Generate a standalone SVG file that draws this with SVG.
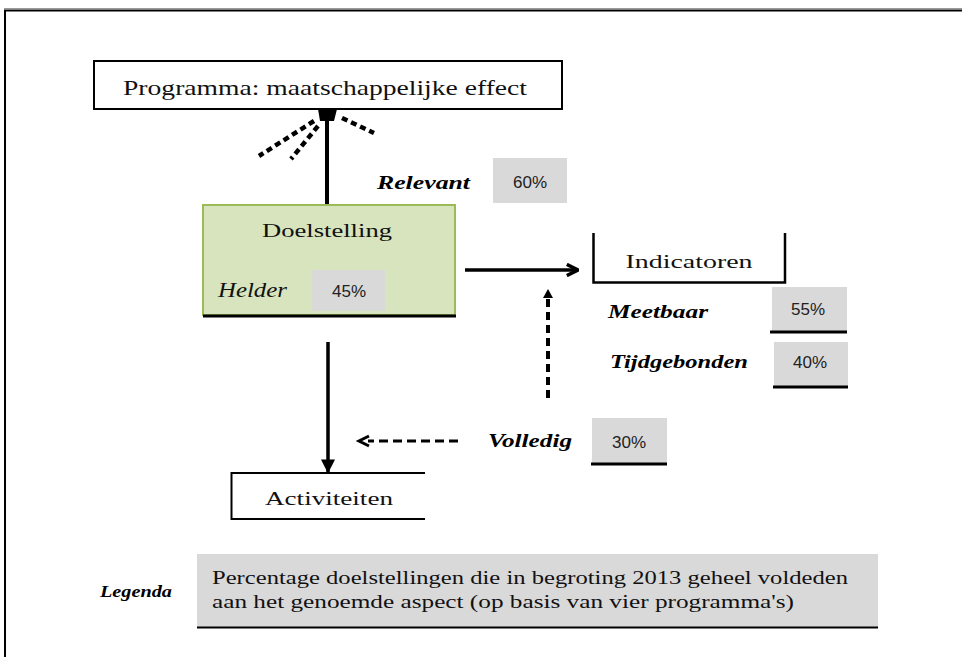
<svg xmlns="http://www.w3.org/2000/svg" width="962" height="657" viewBox="0 0 962 657">
<style>
.t{font-family:"Liberation Serif","DejaVu Serif",serif;fill:#111}
.p{font-family:"Liberation Sans","DejaVu Sans",sans-serif;fill:#222;font-size:17px}
.lbl{font-family:"Liberation Serif","DejaVu Serif",serif;font-weight:bold;font-style:italic;fill:#000}
.pct{fill:#d9d9d9}
.ln{stroke:#000;fill:none}
</style>
<defs>
<marker id="arrFill" viewBox="0 0 10 10" refX="9" refY="5" markerWidth="4" markerHeight="4" orient="auto" markerUnits="strokeWidth">
<path d="M0,0 L10,5 L0,10 Z" fill="#000"/>
</marker>
<marker id="arrOpen" viewBox="0 0 10 10" refX="9" refY="5" markerWidth="4" markerHeight="4" orient="auto" markerUnits="strokeWidth">
<path d="M1,1 L9,5 L1,9" fill="none" stroke="#000" stroke-width="2.5"/>
</marker>
</defs>
<rect width="962" height="657" fill="#fff"/>
<g id="frame">
<line x1="4" y1="8.5" x2="962" y2="8.5" stroke="#999" stroke-width="1"/>
<line x1="4" y1="10.5" x2="962" y2="10.5" stroke="#000" stroke-width="2"/>
<line x1="5" y1="10" x2="5" y2="657" stroke="#000" stroke-width="2"/>
</g>
<g id="connectors">
<line class="ln" x1="327" y1="205" x2="327" y2="118" stroke-width="4"/>
<polygon points="318,109 337,109 334,121 320,121" fill="#000"/>
<line class="ln" x1="314" y1="121" x2="259" y2="156" stroke-width="4.5" stroke-dasharray="6,4"/>
<line class="ln" x1="318" y1="126" x2="291" y2="159" stroke-width="4.5" stroke-dasharray="6,4"/>
<line class="ln" x1="342" y1="118" x2="374" y2="133" stroke-width="4.5" stroke-dasharray="6,4"/>
<line class="ln" x1="465" y1="270" x2="578" y2="270" stroke-width="3.5" marker-end="url(#arrOpen)"/>
<line class="ln" x1="328" y1="342" x2="328" y2="472" stroke-width="3.5" marker-end="url(#arrFill)"/>
<line class="ln" x1="548" y1="398" x2="548" y2="298" stroke-width="4" stroke-dasharray="8,5"/>
<polygon points="548,289 543,298 553,298" fill="#000"/>
<line class="ln" x1="458" y1="441" x2="368" y2="441" stroke-width="3" stroke-dasharray="9,5"/>
<path class="ln" d="M369,436 L359,441 L369,446" stroke-width="3"/>
</g>
<g id="programma">
<rect x="94" y="61" width="468" height="48" fill="#fff" stroke="#000" stroke-width="2"/>
<text class="t" x="123" y="95" font-size="21" textLength="404" lengthAdjust="spacingAndGlyphs">Programma: maatschappelijke effect</text>
</g>
<g id="relevant">
<text class="lbl" x="377" y="189" font-size="19" textLength="93" lengthAdjust="spacingAndGlyphs">Relevant</text>
<rect class="pct" x="493" y="158" width="74" height="45"/>
<text class="p" x="530" y="188" text-anchor="middle">60%</text>
</g>
<g id="doelstelling">
<rect x="203" y="205" width="252" height="110" fill="#d7e4bd" stroke="#9bbb59" stroke-width="2"/>
<line x1="203" y1="316" x2="456" y2="316" stroke="#000" stroke-width="3"/>
<text class="t" x="327" y="237" font-size="19" text-anchor="middle" textLength="130" lengthAdjust="spacingAndGlyphs">Doelstelling</text>
<text class="t" x="218" y="297" font-size="20" font-style="italic" textLength="69" lengthAdjust="spacingAndGlyphs">Helder</text>
<rect class="pct" x="312" y="270" width="73" height="41"/>
<text class="p" x="349" y="297" text-anchor="middle">45%</text>
</g>
<g id="indicatoren">
<path class="ln" d="M593.5,233 V282.5 H785 V233" stroke-width="2.5"/>
<text class="t" x="689" y="268" font-size="19" text-anchor="middle" textLength="127" lengthAdjust="spacingAndGlyphs">Indicatoren</text>
</g>
<g id="meetbaar">
<text class="lbl" x="608" y="318" font-size="19" textLength="100" lengthAdjust="spacingAndGlyphs">Meetbaar</text>
<rect class="pct" x="772" y="287" width="75" height="44"/>
<line x1="770" y1="332" x2="847" y2="332" stroke="#000" stroke-width="3"/>
<text class="p" x="808" y="315" text-anchor="middle">55%</text>
</g>
<g id="tijdgebonden">
<text class="lbl" x="610" y="368" font-size="19" textLength="138" lengthAdjust="spacingAndGlyphs">Tijdgebonden</text>
<rect class="pct" x="774" y="342" width="74" height="44"/>
<line x1="773" y1="387" x2="848" y2="387" stroke="#000" stroke-width="3"/>
<text class="p" x="810" y="368" text-anchor="middle">40%</text>
</g>
<g id="volledig">
<text class="lbl" x="488" y="447" font-size="19" textLength="84" lengthAdjust="spacingAndGlyphs">Volledig</text>
<rect class="pct" x="592" y="418" width="75" height="45"/>
<line x1="591" y1="464" x2="667" y2="464" stroke="#000" stroke-width="3"/>
<text class="p" x="629" y="448" text-anchor="middle">30%</text>
</g>
<g id="activiteiten">
<path class="ln" d="M425,473 H231.5 V519 H425" stroke-width="2"/>
<text class="t" x="329" y="505" font-size="19" text-anchor="middle" textLength="128" lengthAdjust="spacingAndGlyphs">Activiteiten</text>
</g>
<g id="legenda">
<text class="lbl" x="100" y="597" font-size="16" textLength="72" lengthAdjust="spacingAndGlyphs">Legenda</text>
<rect class="pct" x="197" y="554" width="681" height="73"/>
<line x1="197" y1="627.5" x2="878" y2="627.5" stroke="#000" stroke-width="2"/>
<text class="t" x="212" y="584" font-size="18" textLength="636" lengthAdjust="spacingAndGlyphs">Percentage doelstellingen die in begroting 2013 geheel voldeden</text>
<text class="t" x="212" y="608" font-size="18" textLength="582" lengthAdjust="spacingAndGlyphs">aan het genoemde aspect (op basis van vier programma's)</text>
</g>
</svg>
